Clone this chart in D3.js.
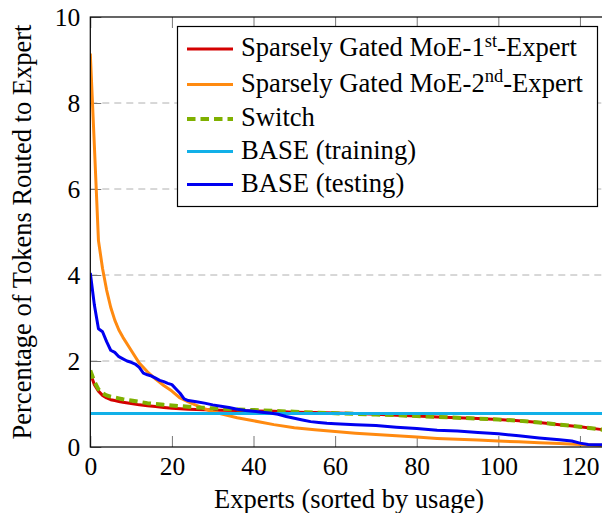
<!DOCTYPE html>
<html><head><meta charset="utf-8">
<script src="https://cdn.jsdelivr.net/npm/d3@7"></script>
<style>body{margin:0;background:#fff;overflow:hidden}svg{display:block}
text{font-family:"Liberation Serif","Times New Roman",Times,serif}</style>
</head><body><svg id="c" width="602" height="513"></svg>
<script>
// ---- data ----
const expertsX = [0,1,2,3,4,5,6,7,8,10,12,14,16,18,20,22,24,26,28,30,32,36,40,45,50,55,60,65,70,75,80,85,90,95,100,105,110,115,120,125,127];
const moe1st  = [1.72,1.45,1.3,1.2,1.14,1.1,1.08,1.06,1.04,1.01,0.98,0.96,0.94,0.92,0.9,0.89,0.88,0.87,0.865,0.86,0.855,0.85,0.84,0.83,0.81,0.80,0.79,0.78,0.76,0.74,0.72,0.70,0.68,0.66,0.64,0.61,0.57,0.52,0.47,0.41,0.38];
const moe2nd  = [9.15,7.0,4.8,4.15,3.65,3.25,2.95,2.72,2.55,2.25,1.95,1.75,1.58,1.43,1.3,1.14,1.05,0.97,0.89,0.82,0.77,0.68,0.61,0.52,0.45,0.40,0.36,0.32,0.29,0.26,0.23,0.20,0.18,0.16,0.14,0.12,0.10,0.08,0.06,0.04,0.03];
const switchY = [1.78,1.52,1.34,1.25,1.2,1.17,1.15,1.13,1.11,1.08,1.05,1.02,1.0,0.98,0.965,0.95,0.935,0.92,0.91,0.9,0.89,0.875,0.86,0.84,0.82,0.80,0.785,0.77,0.755,0.74,0.72,0.70,0.68,0.66,0.64,0.61,0.57,0.52,0.47,0.41,0.38];
const baseTrainX = [0,127];
const baseTrainY = [0.78,0.78];
const baseTestX = [0,1,2,3,4,5,6,7,8,9,10,11,12,13,14,15,16,17,18,19,20,21,22,23,24,26,28,30,32,34,36,38,40,42,44,46,48,50,52,54,56,58,60,65,70,75,80,85,90,95,100,105,110,115,118,120,122,127];
const baseTestY = [4.05,3.3,2.75,2.68,2.45,2.25,2.2,2.1,2.05,2.0,1.97,1.93,1.85,1.72,1.68,1.65,1.6,1.55,1.52,1.48,1.45,1.35,1.25,1.12,1.08,1.05,1.02,0.98,0.95,0.92,0.88,0.85,0.83,0.81,0.79,0.76,0.71,0.67,0.63,0.59,0.57,0.55,0.54,0.52,0.50,0.46,0.43,0.39,0.37,0.34,0.31,0.26,0.21,0.17,0.14,0.09,0.06,0.05];
const xTicks = [0,20,40,60,80,100,120];
const yTicks = [0,2,4,6,8,10];
const seriesNames = ["Sparsely Gated MoE-1", "Sparsely Gated MoE-2", "Switch", "BASE (training)", "BASE (testing)"];

// ---- layout ----
const L = 90.3, R = 608.5, T = 17, B = 447;
const svg = d3.select("#c");
const x = d3.scaleLinear().domain([0,127]).range([L,R]);
const y = d3.scaleLinear().domain([0,10]).range([B,T]);

// grid
svg.append("g").selectAll("line").data(yTicks.filter(d=>d>0&&d<10)).join("line")
  .attr("x1",L).attr("x2",R).attr("y1",d=>y(d)).attr("y2",d=>y(d))
  .attr("stroke","#b0b0b0").attr("stroke-width",1).attr("stroke-dasharray","7,5");

// axes with inside ticks
const xb = svg.append("g").attr("transform",`translate(0,${B})`)
  .call(d3.axisBottom(x).tickValues(xTicks).tickSize(-11).tickPadding(10).tickFormat(d3.format("d")));
const xt = svg.append("g").attr("transform",`translate(0,${T})`)
  .call(d3.axisTop(x).tickValues(xTicks).tickSize(-11).tickFormat(""));
const yl = svg.append("g").attr("transform",`translate(${L},0)`)
  .call(d3.axisLeft(y).tickValues(yTicks).tickSize(-11).tickPadding(10).tickFormat(d3.format("d")));
[xb,xt,yl].forEach(g=>{
  g.attr("font-family",null).attr("font-size",null);
  g.select(".domain").remove();
  g.selectAll(".tick line").attr("stroke","#777").attr("stroke-width",1);
  g.selectAll("text").style("font-size","25.5px").attr("fill","#000");
});
xb.selectAll("text").attr("dy","0.71em");

// clip
svg.append("clipPath").attr("id","clip").append("rect").attr("x",L).attr("y",T).attr("width",R-L).attr("height",B-T);
const plot = svg.append("g").attr("clip-path","url(#clip)");
const line = d3.line().x(d=>x(d[0])).y(d=>y(d[1]));
const zip = (xs,ys)=>xs.map((v,i)=>[v,ys[i]]);
const series = [
  {xs:expertsX, ys:moe1st, color:"#d40000", w:3, dash:null},
  {xs:expertsX, ys:moe2nd, color:"#ff8a10", w:3, dash:null},
  {xs:expertsX, ys:switchY, color:"#7fb000", w:4, dash:"8.5,5"},
  {xs:baseTrainX, ys:baseTrainY, color:"#12b0e8", w:3, dash:null},
  {xs:baseTestX, ys:baseTestY, color:"#0000f0", w:3, dash:null}
];
series.forEach(s=>{
  plot.append("path").datum(zip(s.xs,s.ys)).attr("d",line)
    .attr("fill","none").attr("stroke",s.color).attr("stroke-width",s.w)
    .attr("stroke-linejoin","round")
    .attr("stroke-dasharray",s.dash);
});

// frame
svg.append("rect").attr("x",L).attr("y",T).attr("width",R-L).attr("height",B-T)
  .attr("fill","none").attr("stroke","#000").attr("stroke-width",1.2);

// legend
const lg = svg.append("g");
lg.append("rect").attr("x",177.5).attr("y",26.5).attr("width",420).attr("height",180)
  .attr("fill","#fff").attr("stroke","#000").attr("stroke-width",1.2);
const rowsY = [56,91.5,126,158.5,191.5];
const sups = ["st","nd",null,null,null];
const tails = ["-Expert","-Expert","","",""];
series.forEach((s,i)=>{
  lg.append("line").attr("x1",187).attr("x2",233).attr("y1",rowsY[i]-7).attr("y2",rowsY[i]-7)
    .attr("stroke",s.color).attr("stroke-width",s.w).attr("stroke-dasharray",s.dash);
  const t = lg.append("text").attr("x",241).attr("y",rowsY[i]).style("font-size","26.6px");
  t.append("tspan").text(seriesNames[i]);
  if(sups[i]){
    t.append("tspan").style("font-size","18.5px").attr("dy",-9.5).text(sups[i]);
    t.append("tspan").attr("dy",9.5).text(tails[i]);
  }
});

// axis labels
svg.append("text").attr("x",349).attr("y",507.5).attr("text-anchor","middle")
  .style("font-size","26.5px").text("Experts (sorted by usage)");
svg.append("text").attr("transform","translate(31,232) rotate(-90)").attr("text-anchor","middle")
  .style("font-size","26.5px").text("Percentage of Tokens Routed to Expert");
</script></body></html>
